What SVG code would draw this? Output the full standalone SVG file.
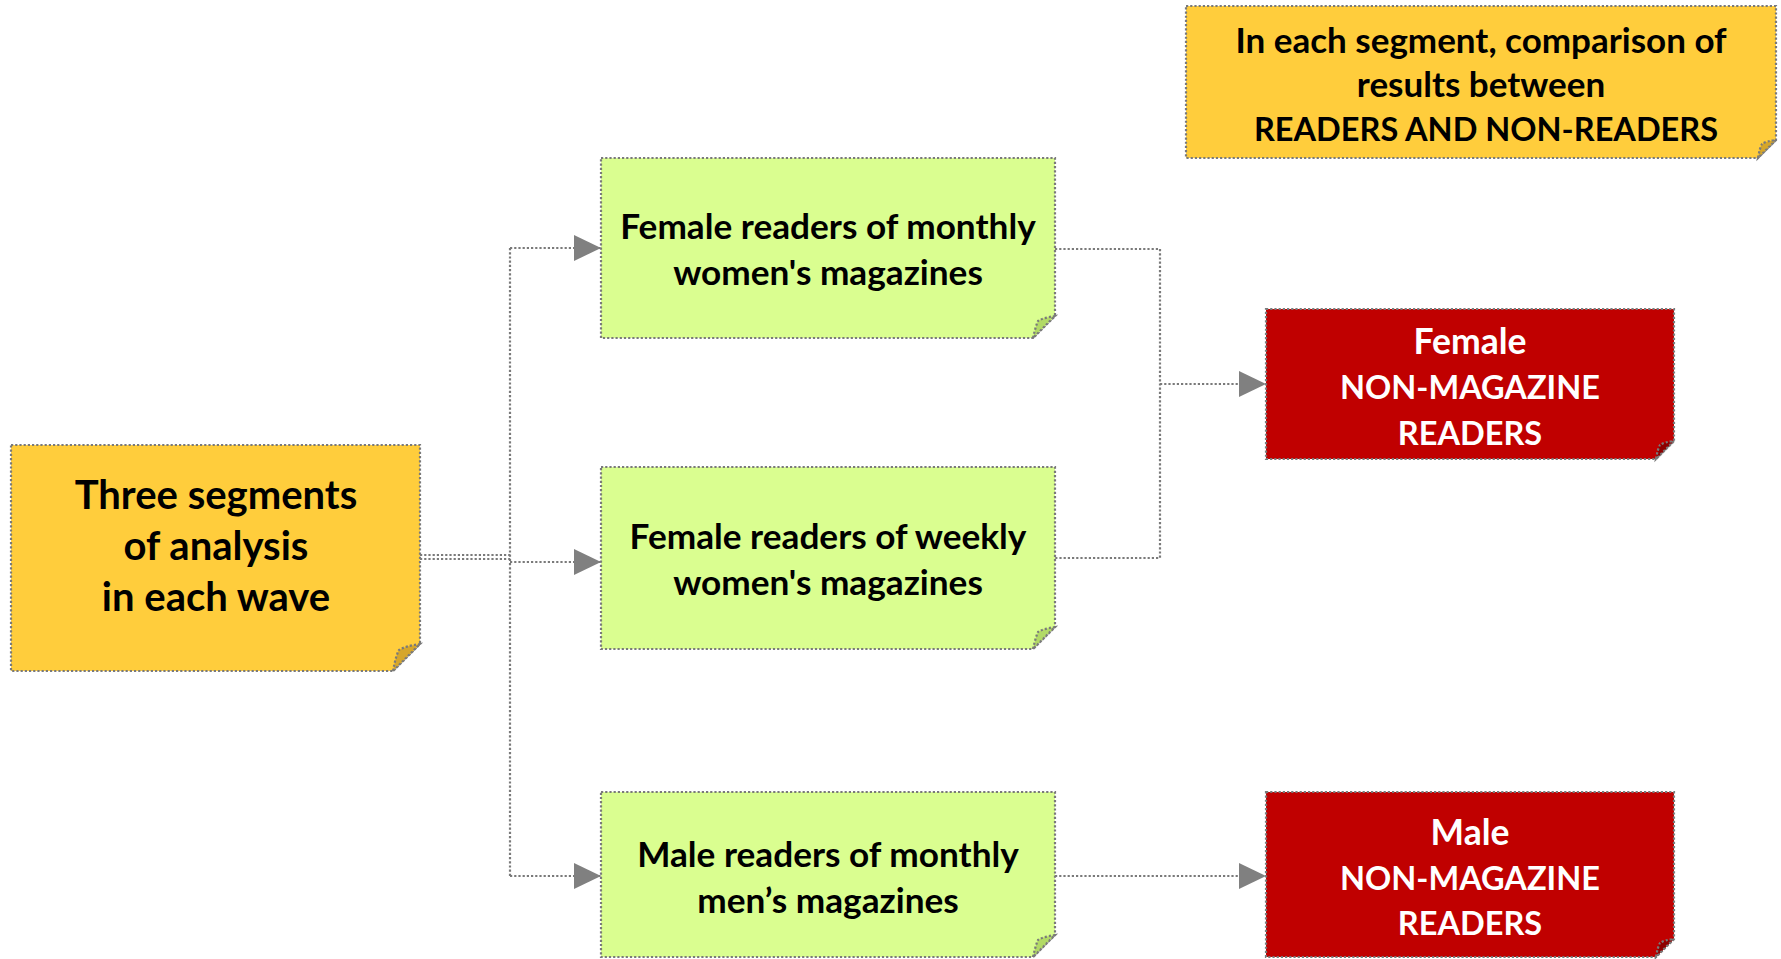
<svg xmlns="http://www.w3.org/2000/svg" width="1781" height="959" viewBox="0 0 1781 959">
<defs>
<style>
.box{stroke:#7A7A7A;stroke-width:2.2;stroke-dasharray:2.2 2}
.yel{fill:#FFCD3C}
.yelf{fill:#D6A62A}
.grn{fill:#DAFE90}
.grnf{fill:#B2DA66}
.red{fill:#C00000}
.redf{fill:#8E0000}
.t{font-family:Lato,"Liberation Sans",sans-serif;font-weight:bold;text-anchor:middle}
.dk{fill:#000}
.wh{fill:#fff}
.con{fill:none;stroke:#7A7A7A;stroke-width:2.2;stroke-dasharray:2.2 2}
</style>
<marker id="arr" viewBox="0 0 27 26" refX="27" refY="13" markerWidth="27" markerHeight="26" markerUnits="userSpaceOnUse" orient="auto">
<path d="M0,0 L27,13 L0,26 Z" fill="#808080"/>
</marker>
</defs>

<g id="connectors">
<path class="con" d="M420,555 H510"/>
<path class="con" d="M420,559 H510"/>
<path class="con" d="M510,248 V876"/>
<path class="con" d="M510,248 H601" marker-end="url(#arr)"/>
<path class="con" d="M510,562 H601" marker-end="url(#arr)"/>
<path class="con" d="M510,876 H601" marker-end="url(#arr)"/>
<path class="con" d="M1055,249 H1160 V558 H1055"/>
<path class="con" d="M1160,384 H1266" marker-end="url(#arr)"/>
<path class="con" d="M1055,876 H1266" marker-end="url(#arr)"/>
</g>

<g id="node-three-segments">
<path class="box yel" d="M11,445 H420 V644 L393,671 H11 Z"/>
<path class="box yelf" d="M393,671 Q396,655 399,650 Q405,646 420,644 Z"/>
<text class="t dk" font-size="40" x="216" y="509">Three segments</text>
<text class="t dk" font-size="40" x="216" y="560">of analysis</text>
<text class="t dk" font-size="40" x="216" y="611">in each wave</text>
</g>

<g id="node-comparison">
<path class="box yel" d="M1186,6 H1776 V140 L1758,158 H1186 Z"/>
<path class="box yelf" d="M1758,158 Q1760,147 1762,144 Q1766,141 1776,140 Z"/>
<text class="t dk" font-size="35" x="1481" y="53">In each segment, comparison of</text>
<text class="t dk" font-size="35" x="1481" y="97">results between</text>
<text class="t dk" font-size="32.5" x="1486" y="141">READERS AND NON-READERS</text>
</g>

<g id="node-female-monthly">
<path class="box grn" d="M601,158 H1055 V316 L1033,338 H601 Z"/>
<path class="box grnf" d="M1033,338 Q1036,325 1038,321 Q1042,318 1055,316 Z"/>
<text class="t dk" font-size="35.2" x="828" y="239">Female readers of monthly</text>
<text class="t dk" font-size="35.2" x="828" y="285">women's magazines</text>
</g>

<g id="node-female-weekly">
<path class="box grn" d="M601,467 H1055 V627 L1033,649 H601 Z"/>
<path class="box grnf" d="M1033,649 Q1036,636 1038,632 Q1042,629 1055,627 Z"/>
<text class="t dk" font-size="35.2" x="828" y="549">Female readers of weekly</text>
<text class="t dk" font-size="35.2" x="828" y="595">women's magazines</text>
</g>

<g id="node-male-monthly">
<path class="box grn" d="M601,792 H1055 V935 L1033,957 H601 Z"/>
<path class="box grnf" d="M1033,957 Q1036,944 1038,940 Q1042,937 1055,935 Z"/>
<text class="t dk" font-size="35.2" x="828" y="867">Male readers of monthly</text>
<text class="t dk" font-size="35.2" x="828" y="913">men’s magazines</text>
</g>

<g id="node-female-non">
<path class="box red" d="M1266,309 H1674 V441 L1656,459 H1266 Z"/>
<path class="box redf" d="M1656,459 Q1658,448 1660,445 Q1664,442 1674,441 Z"/>
<text class="t wh" font-size="35.5" x="1470" y="354">Female</text>
<text class="t wh" font-size="32.5" x="1470" y="399">NON-MAGAZINE</text>
<text class="t wh" font-size="32.5" x="1470" y="445">READERS</text>
</g>

<g id="node-male-non">
<path class="box red" d="M1266,792 H1674 V939 L1656,957 H1266 Z"/>
<path class="box redf" d="M1656,957 Q1658,946 1660,943 Q1664,940 1674,939 Z"/>
<text class="t wh" font-size="35.5" x="1470" y="845">Male</text>
<text class="t wh" font-size="32.5" x="1470" y="890">NON-MAGAZINE</text>
<text class="t wh" font-size="32.5" x="1470" y="935">READERS</text>
</g>
</svg>
